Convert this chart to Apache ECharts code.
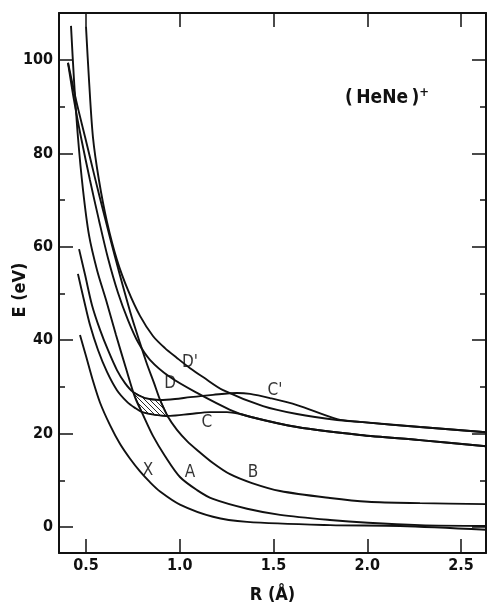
<!DOCTYPE html>
<html lang="en">
<head>
<meta charset="UTF-8">
<title>(HeNe)+ potential curves</title>
<script src="https://cdn.jsdelivr.net/npm/echarts@6/dist/echarts.min.js"></script>
<style>html,body{margin:0;padding:0;background:#fff}</style>
</head>
<body>
<div id="main" style="width:487px;height:602px"></div>
<script>
// potential curves, R in Angstrom, E in eV
var rX = [0.468, 0.5, 0.537, 0.575, 0.628, 0.681, 0.735, 0.788, 0.841, 0.895, 1.001, 1.177, 1.359, 1.801, 2.175, 2.633];
var eX = [41.1, 36.6, 31.3, 26.6, 21.8, 17.8, 14.6, 11.9, 9.6, 7.6, 4.8, 2.2, 1.1, 0.4, 0.2, -0.6];

var rA = [0.42, 0.436, 0.457, 0.484, 0.516, 0.559, 0.607, 0.66, 0.713, 0.761, 0.804, 0.857, 0.921, 1.001, 1.092, 1.177, 1.359, 1.535, 1.801, 2.004, 2.281, 2.633];
var eA = [107.3, 95.7, 83.5, 72.2, 62.5, 55.0, 48.6, 41.1, 34.0, 27.8, 24.0, 19.5, 15.2, 10.7, 7.9, 6.0, 3.9, 2.6, 1.5, 0.9, 0.4, 0.2];

var rB = [0.404, 0.447, 0.495, 0.548, 0.601, 0.655, 0.703, 0.745, 0.788, 0.825, 0.863, 0.895, 0.937, 0.985, 1.039, 1.092, 1.177, 1.268, 1.385, 1.535, 1.801, 2.004, 2.281, 2.633];
var eB = [99.4, 91.4, 83.5, 74.7, 66.2, 57.8, 50.7, 44.8, 39.4, 34.9, 30.8, 27.2, 23.6, 20.8, 18.4, 16.5, 13.7, 11.3, 9.4, 7.7, 6.2, 5.4, 5.1, 4.9];

var rC = [0.457, 0.489, 0.521, 0.564, 0.612, 0.665, 0.719, 0.761, 0.799, 0.868, 0.948, 1.055, 1.161, 1.252, 1.321, 1.375, 1.625, 1.961, 2.281, 2.633];
var eC = [54.2, 48.6, 43.3, 37.9, 33.2, 29.3, 26.8, 25.5, 24.6, 24.0, 23.8, 24.2, 24.6, 24.6, 24.2, 23.6, 21.4, 19.7, 18.6, 17.3];

var rC2 = [0.463, 0.495, 0.532, 0.575, 0.617, 0.665, 0.708, 0.751, 0.815, 0.895, 0.975, 1.055, 1.177, 1.305, 1.375, 1.481, 1.625, 1.839, 1.961, 2.281, 2.633];
var eC2 = [59.5, 54.0, 47.5, 42.2, 37.9, 33.6, 30.8, 28.9, 27.6, 27.2, 27.4, 27.8, 28.3, 28.7, 28.5, 27.6, 26.1, 23.1, 22.5, 21.4, 20.3];

var rD = [0.404, 0.436, 0.473, 0.521, 0.569, 0.617, 0.671, 0.724, 0.777, 0.841, 0.948, 1.092, 1.268, 1.375, 1.625, 1.961, 2.281, 2.633];
var eD = [99.4, 91.4, 83.5, 74.3, 65.7, 57.6, 50.1, 44.3, 39.6, 35.8, 32.1, 28.7, 25.1, 23.6, 21.4, 19.7, 18.6, 17.3];

var rD2 = [0.5, 0.516, 0.537, 0.569, 0.612, 0.665, 0.724, 0.788, 0.857, 0.921, 0.985, 1.055, 1.124, 1.231, 1.444, 1.625, 1.839, 1.961, 2.281, 2.633];
var eD2 = [107.1, 95.7, 83.5, 74.3, 65.3, 57.2, 50.7, 45.2, 40.9, 38.3, 36.2, 34.0, 32.1, 29.3, 25.9, 24.2, 22.9, 22.5, 21.4, 20.3];

// hatched crossing region between A, B, C and C'
var hatchR = [0.751, 0.815, 0.895, 0.916, 0.937, 0.868, 0.799, 0.78];
var hatchE = [28.9, 27.6, 27.2, 25.5, 23.6, 24.0, 24.6, 26.3];

// state labels
var labelText = ['X', 'A', 'B', 'C', 'D', "D'", "C'"];
var labelR = [0.83, 1.055, 1.391, 1.145, 0.948, 1.055, 1.508];
var labelE = [12.0, 11.6, 11.6, 22.3, 30.8, 35.3, 29.3];

var majorE = [0, 20, 40, 60, 80, 100];
var minorE = [10, 30, 50, 70, 90];
var majorR = [0.5, 1.0, 1.5, 2.0, 2.5];

var FONT = '"Liberation Sans Narrow", "DejaVu Sans Condensed", "Liberation Sans", sans-serif';
var ink = '#111';

function pairs(r, e) {
    return r.map(function (v, i) { return [v, e[i]]; });
}

// diagonal hatch pattern
var hatch = document.createElement('canvas');
hatch.width = 5; hatch.height = 5;
var hc = hatch.getContext('2d');
hc.strokeStyle = ink; hc.lineWidth = 0.9;
hc.beginPath();
hc.moveTo(-1, -1); hc.lineTo(6, 6);
hc.moveTo(-1, 4); hc.lineTo(1, 6);
hc.moveTo(4, -1); hc.lineTo(6, 1);
hc.stroke();

var myChart = echarts.init(document.getElementById('main'));

var curveList = [['X', rX, eX], ['A', rA, eA], ['B', rB, eB], ['C', rC, eC], ["C'", rC2, eC2], ['D', rD, eD], ["D'", rD2, eD2]];
var series = curveList.map(function (c) {
    return {
        name: c[0],
        type: 'line',
        xAxisIndex: 0, yAxisIndex: 0,
        data: pairs(c[1], c[2]),
        smooth: 0.3,
        symbol: 'none',
        lineStyle: { color: ink, width: 1.9 },
        silent: true
    };
});

series.push({
    type: 'custom',
    xAxisIndex: 0, yAxisIndex: 0,
    data: [[hatchR[0], hatchE[0]]],
    renderItem: function (params, api) {
        var pts = hatchR.map(function (r, i) { return api.coord([r, hatchE[i]]); });
        return {
            type: 'polygon',
            shape: { points: pts },
            style: { fill: { image: hatch, repeat: 'repeat' }, stroke: ink, lineWidth: 1 }
        };
    },
    z: 1
});

series.push({
    type: 'scatter',
    xAxisIndex: 0, yAxisIndex: 0,
    symbolSize: 0,
    data: labelR.map(function (r, i) { return { value: [r, labelE[i]], name: labelText[i] }; }),
    label: {
        show: true,
        position: 'inside',
        formatter: '{b}',
        fontFamily: FONT,
        fontSize: 17,
        color: '#000'
    },
    silent: true
});

function yAx(pos, values, len, labels, line) {
    return {
        type: 'value', position: pos, min: -5.57, max: 110.06,
        axisLine: { show: line, onZero: false, lineStyle: { color: ink, width: 2 } },
        axisTick: { show: true, inside: true, length: len, customValues: values, lineStyle: { color: ink, width: 1.5 } },
        axisLabel: { show: labels, customValues: values, margin: 6, fontFamily: FONT, fontSize: 16, fontWeight: 'bold', color: ink },
        splitLine: { show: false }
    };
}

function xAx(pos, labels) {
    return {
        type: 'value', position: pos, min: 0.356, max: 2.633,
        axisLine: { show: true, onZero: false, lineStyle: { color: ink, width: 2 } },
        axisTick: { show: true, inside: true, length: 14, customValues: majorR, lineStyle: { color: ink, width: 1.5 } },
        axisLabel: {
            show: labels, customValues: majorR, margin: 5, fontFamily: FONT, fontSize: 16, fontWeight: 'bold', color: ink,
            formatter: function (v) { return v.toFixed(1); }
        },
        splitLine: { show: false }
    };
}

var xBottom = xAx('bottom', true);
xBottom.name = 'R (\u00C5)';
xBottom.nameLocation = 'middle';
xBottom.nameGap = 33;
xBottom.nameMoveOverlap = false;
xBottom.nameTextStyle = { fontFamily: FONT, fontSize: 18, fontWeight: 'bold', color: ink };

var yLeft = yAx('left', majorE, 14, true, true);
yLeft.name = 'E (eV)';
yLeft.nameLocation = 'middle';
yLeft.nameRotate = 90;
yLeft.nameGap = 30;
yLeft.nameMoveOverlap = false;
yLeft.nameTextStyle = { fontFamily: FONT, fontSize: 18, fontWeight: 'bold', color: ink, padding: [0, 14, 0, 0] };

myChart.setOption({
    animation: false,
    backgroundColor: '#fff',
    title: {
        text: '{p|(\u2009HeNe\u2009)}{s|+}',
        left: 340, top: 81,
        textStyle: {
            rich: {
                p: { fontFamily: FONT, fontSize: 19, fontWeight: 'bold', color: ink, lineHeight: 24 },
                s: { fontFamily: FONT, fontSize: 13, color: ink, fontWeight: 'bold', lineHeight: 12, verticalAlign: 'top' }
            }
        }
    },
    grid: { left: 59, right: 1, top: 13, bottom: 49, containLabel: false, outerBoundsMode: 'none' },
    xAxis: [xBottom, xAx('top', false)],
    yAxis: [
        yLeft,
        yAx('left', minorE, 6, false, false),
        yAx('right', majorE, 14, false, true),
        yAx('right', minorE, 6, false, false)
    ],
    series: series
});
</script>
</body>
</html>
